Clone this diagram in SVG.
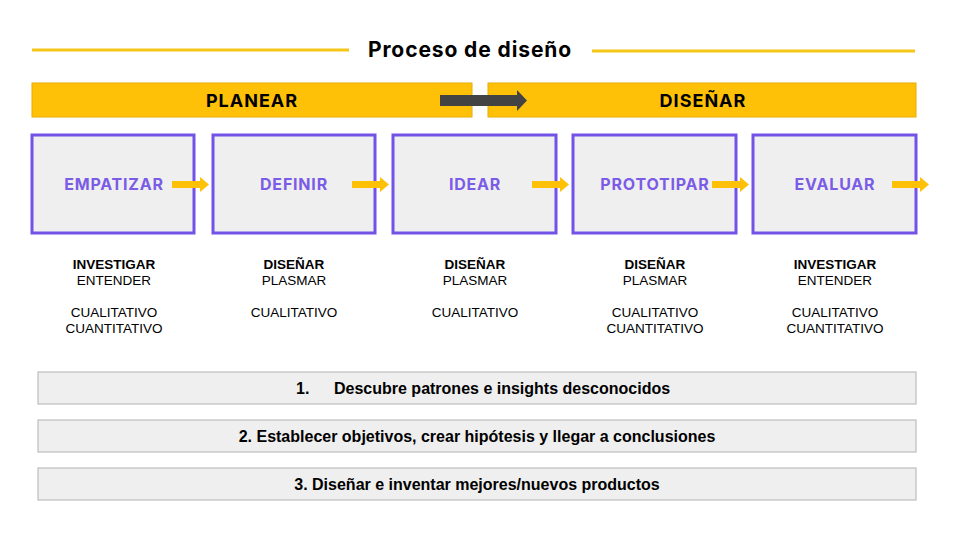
<svg xmlns="http://www.w3.org/2000/svg" width="960" height="540" viewBox="0 0 960 540">
<style>
.title{font-family:Inter,"Open Sans",sans-serif;font-weight:700;font-size:21px;letter-spacing:0.9px;fill:#000}
.phase{fill:#FFC107;stroke:#E8AC00;stroke-width:1}
.phaset{font-family:Inter,"Open Sans",sans-serif;font-weight:700;font-size:18px;letter-spacing:1px;fill:#000}
.box{fill:#EFEFEF;stroke:#7352E8;stroke-width:3}
.lbl{font-family:Inter,"Open Sans",sans-serif;font-weight:700;font-size:16px;letter-spacing:0.8px;fill:#7B5CE6}
.sub{font-family:"Liberation Sans",Arial,sans-serif;font-size:13.5px;fill:#000}
.subb{font-family:"Liberation Sans",Arial,sans-serif;font-size:13.5px;font-weight:700;fill:#000}
.bar{fill:#EFEFEF;stroke:#BDBDBD;stroke-width:1.2}
.bart{font-family:"Liberation Sans",Arial,sans-serif;font-size:16px;font-weight:700;fill:#000}
.yarrow{fill:#FFC107}
</style>
<rect width="960" height="540" fill="#fff"/>
<g id="title">
<line x1="32" y1="50" x2="349" y2="50" stroke="#F5C518" stroke-width="3"/>
<line x1="592" y1="51" x2="915" y2="51" stroke="#F5C518" stroke-width="3"/>
<text class="title" x="470" y="57" text-anchor="middle">Proceso de diseño</text>
</g>
<g id="planear">
<rect class="phase" x="32" y="83" width="440" height="34"/>
<text class="phaset" x="252" y="107" text-anchor="middle">PLANEAR</text>
</g>
<g id="disenar">
<rect class="phase" x="488" y="83" width="428" height="34"/>
<text class="phaset" x="703" y="107" text-anchor="middle">DISEÑAR</text>
</g>
<g id="empatizar">
<rect class="box" x="32" y="135" width="162" height="98"/>
<text class="lbl" x="114" y="190" text-anchor="middle">EMPATIZAR</text>
<text class="subb" x="114" y="269" text-anchor="middle">INVESTIGAR</text>
<text class="sub" x="114" y="285" text-anchor="middle">ENTENDER</text>
<text class="sub" x="114" y="317" text-anchor="middle">CUALITATIVO</text>
<text class="sub" x="114" y="333" text-anchor="middle">CUANTITATIVO</text>
</g>
<g id="definir">
<rect class="box" x="213" y="135" width="162" height="98"/>
<text class="lbl" x="294" y="190" text-anchor="middle">DEFINIR</text>
<text class="subb" x="294" y="269" text-anchor="middle">DISEÑAR</text>
<text class="sub" x="294" y="285" text-anchor="middle">PLASMAR</text>
<text class="sub" x="294" y="317" text-anchor="middle">CUALITATIVO</text>
</g>
<g id="idear">
<rect class="box" x="393" y="135" width="163" height="98"/>
<text class="lbl" x="475" y="190" text-anchor="middle">IDEAR</text>
<text class="subb" x="475" y="269" text-anchor="middle">DISEÑAR</text>
<text class="sub" x="475" y="285" text-anchor="middle">PLASMAR</text>
<text class="sub" x="475" y="317" text-anchor="middle">CUALITATIVO</text>
</g>
<g id="prototipar">
<rect class="box" x="573" y="135" width="163" height="98"/>
<text class="lbl" x="655" y="190" text-anchor="middle">PROTOTIPAR</text>
<text class="subb" x="655" y="269" text-anchor="middle">DISEÑAR</text>
<text class="sub" x="655" y="285" text-anchor="middle">PLASMAR</text>
<text class="sub" x="655" y="317" text-anchor="middle">CUALITATIVO</text>
<text class="sub" x="655" y="333" text-anchor="middle">CUANTITATIVO</text>
</g>
<g id="evaluar">
<rect class="box" x="753" y="135" width="163" height="98"/>
<text class="lbl" x="835" y="190" text-anchor="middle">EVALUAR</text>
<text class="subb" x="835" y="269" text-anchor="middle">INVESTIGAR</text>
<text class="sub" x="835" y="285" text-anchor="middle">ENTENDER</text>
<text class="sub" x="835" y="317" text-anchor="middle">CUALITATIVO</text>
<text class="sub" x="835" y="333" text-anchor="middle">CUANTITATIVO</text>
</g>
<g id="connectors">
<path d="M440 95 H517 V90 L527 100.5 L517 111 V106 H440 Z" fill="#434343"/>
<path class="yarrow" d="M172 181 H200 V177 L209 184.5 L200 192 V188 H172 Z"/>
<path class="yarrow" d="M352 181 H380 V177 L389 184.5 L380 192 V188 H352 Z"/>
<path class="yarrow" d="M532 181 H560 V177 L569 184.5 L560 192 V188 H532 Z"/>
<path class="yarrow" d="M712 181 H740 V177 L749 184.5 L740 192 V188 H712 Z"/>
<path class="yarrow" d="M892 181 H920 V177 L929 184.5 L920 192 V188 H892 Z"/>
</g>
<g id="bar1">
<rect class="bar" x="38" y="372" width="878" height="32"/>
<text class="bart" x="296" y="394">1.</text>
<text class="bart" x="334" y="394">Descubre patrones e insights desconocidos</text>
</g>
<g id="bar2">
<rect class="bar" x="38" y="420" width="878" height="32"/>
<text class="bart" x="477" y="442" text-anchor="middle">2. Establecer objetivos, crear hipótesis y llegar a conclusiones</text>
</g>
<g id="bar3">
<rect class="bar" x="38" y="468" width="878" height="32"/>
<text class="bart" x="477" y="490" text-anchor="middle">3. Diseñar e inventar mejores/nuevos productos</text>
</g>
</svg>
